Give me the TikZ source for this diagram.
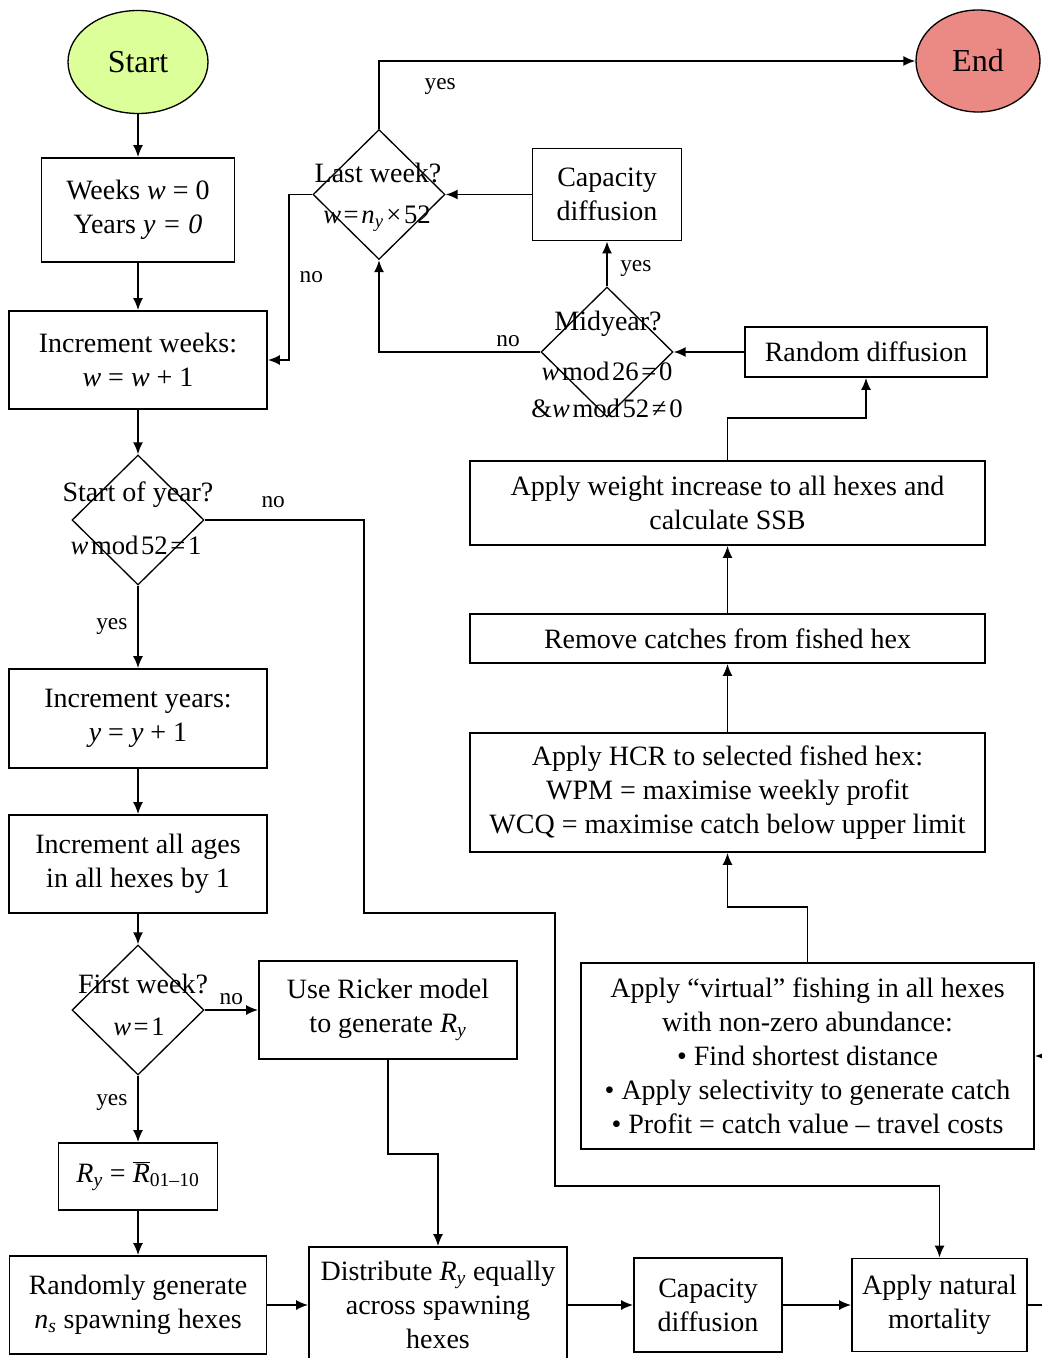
\documentclass[tikz,border=0pt]{standalone}
\usepackage{fontspec}
\setmainfont{Liberation Serif}
\usetikzlibrary{shapes.geometric,arrows.meta,positioning}
\definecolor{startgreen}{HTML}{DDFF99}
\definecolor{endred}{HTML}{EB8A85}
\newcommand{\fsp}{\hspace{0.1em}}
\tikzset{
  box/.style={draw, align=center, inner sep=0pt},
  dia/.style={draw, diamond, line width=1pt, minimum width=99pt, minimum height=97.5pt, inner sep=0pt},
  term/.style={draw, ellipse, line width=1pt, font=\fontsize{24}{28}\selectfont},
  lbl/.style={font=\fontsize{17.5}{20}\selectfont},
  dtext/.style={inner sep=0pt},
  dform/.style={inner sep=0pt, font=\fontsize{20}{24}\selectfont}
}
\begin{document}
\begin{tikzpicture}[x=0.75pt, y=-0.75pt, >={Latex[length=9pt,width=7.5pt]}, line width=1.3pt, font=\fontsize{21}{25.5}\selectfont]
\useasboundingbox (0,0) rectangle (1041,1358);

% left column
\node[term, fill=startgreen, minimum width=105pt, minimum height=77.25pt] (start) at (138,62){Start};
\node[box, minimum width=144.75pt, minimum height=78pt] (weeks) at (138,210){Weeks \textit{w} = 0\\Years \textit{y = 0}};
\node[box, minimum width=193.5pt, minimum height=73.5pt] (incw) at (138,360){Increment weeks:\\\textit{w} = \textit{w} + 1};
\node[dia] (sy) at (138,520){};
\node[dtext] (syq) at (138,495){Start of year?};
\node[dform] (syc) at (136,545){\textit{w}\fsp mod\fsp 52\fsp=\fsp1};
\node[box, minimum width=193.5pt, minimum height=74.25pt] (incy) at (138,718.5){Increment years:\\\textit{y} = \textit{y} + 1};
\node[box, minimum width=193.5pt, minimum height=73.5pt] (ages) at (138,864){Increment all ages\\in all hexes by 1};
\node[dia] (fw) at (138,1010){};
\node[dtext] (fwq) at (143,984){First week?};
\node[dform] (fwc) at (139,1027){\textit{w}\fsp=\fsp1};
\node[box, minimum width=193.5pt, minimum height=73.5pt] (ric) at (388,1010){Use Ricker model\\to generate \textit{R}\textsubscript{\textit{y}}};
\node[box, minimum width=119.25pt, minimum height=50.25pt] (ry) at (138,1176.5){\textit{R}\textsubscript{\textit{y}} = \(\overline{\mbox{\textit{R}}}\)\textsubscript{01–10}};
\node[box, minimum width=192.75pt, minimum height=73.5pt] (rand) at (138,1305){Randomly generate\\\textit{n}\textsubscript{\textit{s}} spawning hexes};

% bottom row
\node[box, minimum width=193.5pt, minimum height=87pt] (distr) at (438,1305){Distribute \textit{R}\textsubscript{\textit{y}} equally\\across spawning\\hexes};
\node[box, minimum width=111pt, minimum height=70.5pt] (cap2) at (708,1305){Capacity\\diffusion};
\node[box, minimum width=131.25pt, minimum height=69.75pt] (nat) at (939.5,1305){Apply natural\\mortality};
\coordinate (offr) at (1048,1305);
\coordinate (offv) at (1048,1056);

% right column
\node[box, minimum width=339.75pt, minimum height=139.5pt] (virt) at (807.5,1056){Apply “virtual” fishing in all hexes\\with non-zero abundance:\\• Find shortest distance\\• Apply selectivity to generate catch\\• Profit = catch value – travel costs};
\node[box, minimum width=386.25pt, minimum height=89.25pt] (hcr) at (727.5,792.5){Apply HCR to selected fished hex:\\WPM = maximise weekly profit\\WCQ = maximise catch below upper limit};
\node[box, minimum width=386.25pt, minimum height=36.75pt] (rem) at (727.5,638.5){Remove catches from fished hex};
\node[box, minimum width=386.25pt, minimum height=63pt] (wt) at (727.5,503){Apply weight increase to all hexes and\\calculate SSB};
\node[box, minimum width=181.5pt, minimum height=37.5pt] (rdiff) at (866,352){Random diffusion};
\node[dia] (mid) at (607,352){};
\node[dtext] (midq) at (608,324){Midyear?};
\node[dform] (midc) at (607,371){\textit{w}\fsp mod\fsp 26\fsp=\fsp0};
\node[dform] (midd) at (607,408){\&\textit{w}\fsp mod\fsp 52\fsp≠\fsp0};
\node[box, minimum width=111.75pt, minimum height=69pt] (cap1) at (607,194.5){Capacity\\diffusion};
\node[dia] (lw) at (379,194.5){};
\node[dtext] (lwq) at (378,173){Last week?};
\node[dform] (lwc) at (377,219){\textit{w}\fsp=\fsp\textit{n}\textsubscript{\textit{y}}\fsp×\fsp52};
\node[term, fill=endred, minimum width=93pt, minimum height=76.5pt] (end) at (978,61){End};

% connectors
\draw[->](start)--(weeks);
\draw[->](weeks)--(incw);
\draw[->](incw)--(sy);
\draw[->](sy)--node[lbl, left=4pt]{yes}(incy);
\draw[->](sy.east)--node[lbl, above=5pt, pos=.43]{no}(364,520)--(364,913)--(555,913)--(555,1186)-|(nat.north);
\draw[->](incy)--(ages);
\draw[->](ages)--(fw);
\draw[->](fw.east)--node[lbl, above]{no}(ric.west);
\draw[->](fw)--node[lbl, left=4pt, pos=.4]{yes}(ry);
\draw[->](ry)--(rand);
\draw[->](ric.south)|-(438,1154)--(distr.north);
\draw[->](rand)--(distr);
\draw[->](distr)--(cap2);
\draw[->](cap2)--(nat);
\draw(nat)--(offr);
\draw[->](offv)--(virt.east);
\draw[->](virt.north)--(807.5,907)-|(hcr.south);
\draw[->](hcr)--(rem);
\draw[->](rem)--(wt);
\draw[->](wt.north)--++(0,-42)-|(rdiff.south);
\draw[->](rdiff)--(mid);
\draw[->](mid)--node[lbl, right=6pt, pos=.39]{yes}(cap1);
\draw[->](mid.west)-|node[lbl, above, pos=.1]{no}(lw.south);
\draw[->](cap1)--(lw);
\draw[->](lw.west)--(289,194.5)|-node[lbl, right=4pt, pos=.25]{no}(incw.east);
\draw[->](lw.north)|-node[lbl, below=9pt, pos=.557]{yes}(end.west);

\end{tikzpicture}
\end{document}
